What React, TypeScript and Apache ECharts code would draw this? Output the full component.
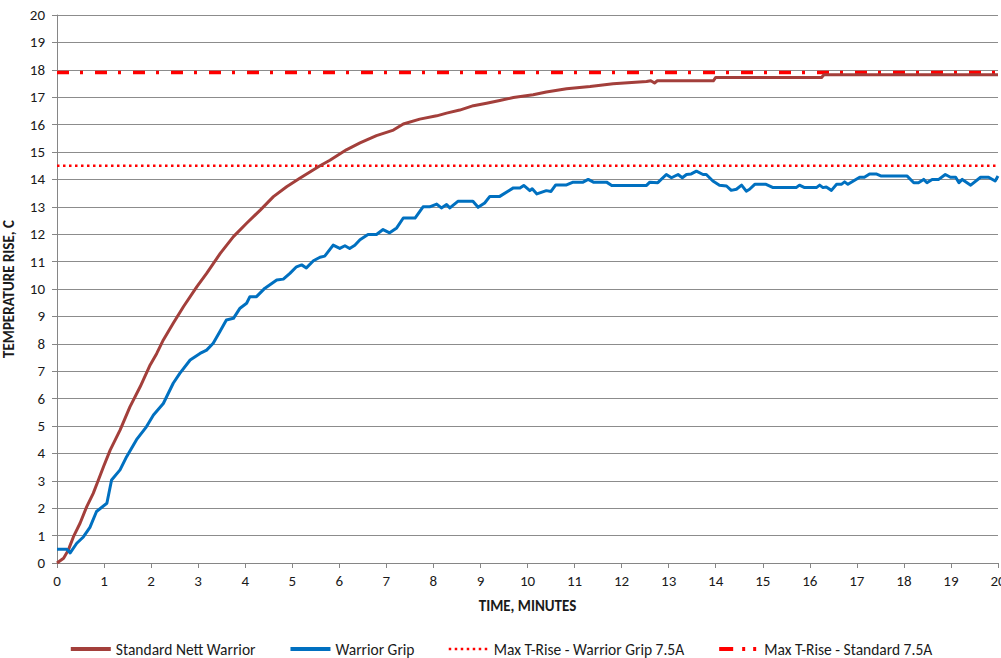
import React, { useEffect, useRef } from "react";
import * as echarts from "echarts";

const FONT = "Carlito, Calibri, 'Liberation Sans', Arial, sans-serif";

const redTime = [0, 0.14, 0.24, 0.35, 0.49, 0.63, 0.77, 0.88, 0.99, 1.13, 1.34, 1.55, 1.77, 1.98, 2.12, 2.26, 2.47, 2.69, 2.97, 3.18, 3.47, 3.75, 4.03, 4.32, 4.6, 4.88, 5.16, 5.59, 5.8, 6.15, 6.44, 6.79, 7.15, 7.36, 7.71, 8.07, 8.28, 8.56, 8.85, 9.13, 9.41, 9.7, 10.12, 10.4, 10.83, 11.33, 11.82, 12.53, 12.62, 12.7, 12.76, 13.95, 14.0, 16.25, 16.3, 20];
const redTemp = [0, 0.17, 0.47, 0.96, 1.45, 2.05, 2.54, 3.03, 3.52, 4.12, 4.85, 5.7, 6.44, 7.23, 7.65, 8.14, 8.75, 9.36, 10.08, 10.57, 11.3, 11.91, 12.4, 12.88, 13.37, 13.73, 14.04, 14.5, 14.7, 15.08, 15.33, 15.6, 15.8, 16.02, 16.2, 16.32, 16.42, 16.53, 16.69, 16.78, 16.88, 16.99, 17.09, 17.19, 17.31, 17.39, 17.49, 17.57, 17.6, 17.52, 17.6, 17.6, 17.72, 17.72, 17.82, 17.82];

const blueTime = [0, 0.21, 0.28, 0.42, 0.56, 0.7, 0.84, 1.06, 1.16, 1.34, 1.48, 1.69, 1.9, 2.05, 2.26, 2.47, 2.61, 2.83, 3.04, 3.18, 3.32, 3.46, 3.6, 3.75, 3.89, 4.03, 4.1, 4.24, 4.42, 4.67, 4.81, 4.95, 5.09, 5.2, 5.3, 5.45, 5.59, 5.69, 5.87, 6.01, 6.12, 6.22, 6.33, 6.44, 6.61, 6.79, 6.93, 7.07, 7.22, 7.36, 7.61, 7.78, 7.92, 8.07, 8.17, 8.28, 8.35, 8.52, 8.84, 8.95, 9.09, 9.2, 9.41, 9.7, 9.84, 9.92, 10.05, 10.1, 10.2, 10.4, 10.5, 10.6, 10.83, 10.97, 11.18, 11.29, 11.4, 11.68, 11.79, 12.53, 12.6, 12.77, 12.95, 13.06, 13.2, 13.29, 13.38, 13.48, 13.59, 13.73, 13.8, 13.94, 14.08, 14.23, 14.33, 14.44, 14.55, 14.65, 14.72, 14.83, 15.07, 15.22, 15.71, 15.78, 15.89, 16.14, 16.21, 16.28, 16.35, 16.46, 16.57, 16.67, 16.74, 16.81, 17.06, 17.16, 17.27, 17.41, 17.52, 18.07, 18.21, 18.31, 18.42, 18.49, 18.6, 18.74, 18.88, 18.99, 19.1, 19.17, 19.24, 19.42, 19.63, 19.8, 19.94, 20];
const blueTemp = [0.5, 0.5, 0.37, 0.72, 0.95, 1.3, 1.88, 2.18, 3.03, 3.4, 3.88, 4.5, 4.97, 5.4, 5.82, 6.56, 6.92, 7.41, 7.65, 7.77, 8.02, 8.44, 8.87, 8.93, 9.3, 9.48, 9.72, 9.72, 10.03, 10.33, 10.36, 10.57, 10.81, 10.88, 10.77, 11.03, 11.16, 11.2, 11.6, 11.48, 11.58, 11.48, 11.6, 11.8, 11.99, 11.99, 12.17, 12.05, 12.23, 12.59, 12.59, 13.0, 13.0, 13.1, 12.96, 13.08, 12.96, 13.2, 13.2, 12.98, 13.14, 13.38, 13.38, 13.69, 13.69, 13.78, 13.59, 13.66, 13.47, 13.59, 13.56, 13.8, 13.8, 13.9, 13.9, 14.0, 13.9, 13.9, 13.78, 13.78, 13.9, 13.88, 14.18, 14.06, 14.18, 14.06, 14.18, 14.2, 14.3, 14.18, 14.18, 13.94, 13.79, 13.76, 13.6, 13.64, 13.79, 13.57, 13.64, 13.82, 13.82, 13.7, 13.7, 13.79, 13.7, 13.7, 13.79, 13.7, 13.72, 13.6, 13.82, 13.82, 13.91, 13.82, 14.08, 14.08, 14.2, 14.2, 14.12, 14.12, 13.88, 13.88, 14.0, 13.88, 14.0, 14.0, 14.18, 14.08, 14.08, 13.88, 14.0, 13.79, 14.08, 14.08, 13.94, 14.12];

const limitTime = [0, 20];
const maxGripLimit = 14.5;
const maxStandardLimit = 17.9;

const seriesNames = [
  "Standard Nett Warrior",
  "Warrior Grip",
  "Max T-Rise - Warrior Grip 7.5A",
  "Max T-Rise - Standard 7.5A",
];

const pairs = (xs: number[], ys: number[]) => xs.map((x, i) => [x, ys[i]]);

const RED = "#A33F3B";
const BLUE = "#0070C0";
const LIMIT = "#FF0000";

export default function App() {
  const ref = useRef<HTMLDivElement>(null);
  useEffect(() => {
    if (!ref.current) return;
    const chart = echarts.init(ref.current, undefined, { renderer: "svg" });
    const axisText = { color: "#1a1a1a", fontSize: 15, fontFamily: FONT };
    chart.setOption({
      animation: false,
      backgroundColor: "#ffffff",
      grid: { left: 57, top: 15, width: 941, height: 548, containLabel: false, outerBoundsMode: "none" },
      legend: {
        data: [
          { name: seriesNames[0], lineStyle: { width: 4, color: RED } },
          { name: seriesNames[1], lineStyle: { width: 4, color: BLUE } },
          { name: seriesNames[2], lineStyle: { width: 2.5, color: LIMIT, type: [2.5, 3.5], cap: "butt" } },
          { name: seriesNames[3], lineStyle: { width: 4, color: LIMIT, type: [14, 9, 3, 8, 3, 8], cap: "butt" } },
        ],
        left: "center",
        top: 636,
        itemWidth: 40,
        itemHeight: 14,
        itemGap: 33,
        itemStyle: { opacity: 0 },
        textStyle: { color: "#1a1a1a", fontSize: 15.5, fontFamily: FONT },
      },
      xAxis: {
        type: "value",
        min: 0,
        max: 20,
        interval: 1,
        name: "TIME, MINUTES",
        nameLocation: "middle",
        nameGap: 35,
        nameTextStyle: { ...axisText, fontWeight: "bold", fontSize: 15 },
        axisLine: { show: true, lineStyle: { color: "#868686", width: 1 } },
        axisTick: { show: true, length: 5, lineStyle: { color: "#868686" } },
        axisLabel: { ...axisText, margin: 10, showMaxLabel: true },
        splitLine: { show: false },
      },
      yAxis: {
        type: "value",
        min: 0,
        max: 20,
        interval: 1,
        name: "TEMPERATURE RISE, C",
        nameLocation: "middle",
        nameGap: 41,
        nameRotate: 90,
        nameTextStyle: { ...axisText, fontWeight: "bold", fontSize: 15 },
        axisLine: { show: true, lineStyle: { color: "#868686", width: 1 } },
        axisTick: { show: true, length: 5, lineStyle: { color: "#868686" } },
        axisLabel: { ...axisText, margin: 12 },
        splitLine: { show: true, lineStyle: { color: "#8c8c8c", width: 1 } },
      },
      series: [
        {
          name: seriesNames[0],
          type: "line",
          data: pairs(redTime, redTemp),
          showSymbol: false,
          symbol: "none",
          color: RED,
          lineStyle: { width: 3, color: RED, join: "round" },
          z: 3,
        },
        {
          name: seriesNames[1],
          type: "line",
          data: pairs(blueTime, blueTemp),
          showSymbol: false,
          symbol: "none",
          color: BLUE,
          lineStyle: { width: 3, color: BLUE, join: "round" },
          z: 3,
        },
        {
          name: seriesNames[2],
          type: "line",
          data: limitTime.map((t) => [t, maxGripLimit]),
          showSymbol: false,
          symbol: "none",
          color: LIMIT,
          lineStyle: { width: 2.5, color: LIMIT, type: [2.5, 3.5], cap: "butt" },
          z: 2,
        },
        {
          name: seriesNames[3],
          type: "line",
          data: limitTime.map((t) => [t, maxStandardLimit]),
          showSymbol: false,
          symbol: "none",
          color: LIMIT,
          lineStyle: { width: 3.5, color: LIMIT, type: [12, 11, 3, 12], cap: "butt" },
          z: 2,
        },
      ],
    });
    return () => chart.dispose();
  }, []);
  return (
    <div style={{ position: "absolute", left: 0, top: 0, width: 1001, height: 658, overflow: "hidden", background: "#fff" }}>
      <div ref={ref} style={{ width: 1001, height: 658 }} />
    </div>
  );
}
